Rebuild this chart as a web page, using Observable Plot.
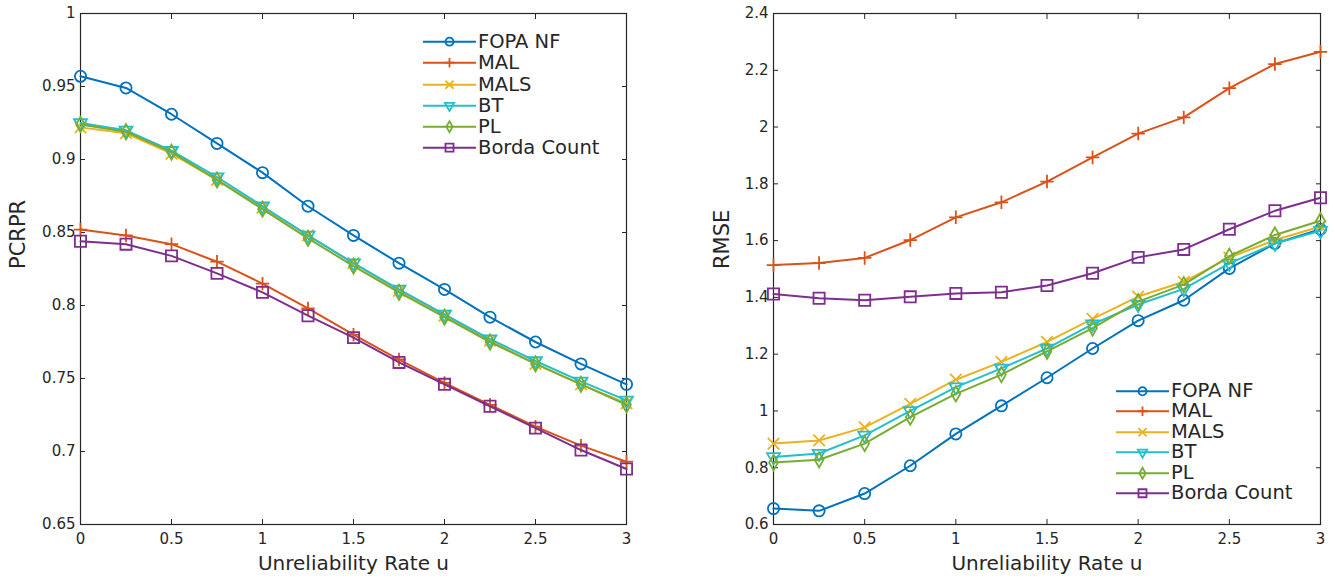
<!DOCTYPE html>
<html><head><meta charset="utf-8">
<script src="https://cdn.jsdelivr.net/npm/d3@7"></script>
<script src="https://cdn.jsdelivr.net/npm/@observablehq/plot@0.6"></script>
<style>
body{margin:0;background:#fff;}
#wrap{position:relative;width:1335px;height:583px;font-family:"DejaVu Sans",sans-serif;color:#262626;overflow:hidden}
.panel{position:absolute;top:0}
.legend{position:absolute;font-size:19.5px}
.legend .row{display:flex;align-items:center;white-space:nowrap;overflow:visible}
.legend svg{display:block;margin-right:2px}
</style></head><body><div id="wrap"></div>
<script>
// ---- data ----
const u = [0, 0.25, 0.5, 0.75, 1, 1.25, 1.5, 1.75, 2, 2.25, 2.5, 2.75, 3];
const seriesNames = ["FOPA NF", "MAL", "MALS", "BT", "PL", "Borda Count"];
const colors = ["#0072BD", "#D95319", "#EDB120", "#22BFCD", "#77AC30", "#7E2F8E"];
const symbols = ["circle", "plus", "times", "triangle", "diamond", "square"];
const symbolR = [5.6, 4.4, 5.3, 4.8, 4.6, 6.3];
const symbolRotate = [0, 0, 0, 180, 0, 0];

const pcrprFOPA  = [0.957, 0.949, 0.931, 0.911, 0.891, 0.868, 0.848, 0.829, 0.811, 0.792, 0.775, 0.760, 0.746];
const pcrprMAL   = [0.852, 0.848, 0.842, 0.830, 0.815, 0.798, 0.780, 0.763, 0.747, 0.732, 0.717, 0.704, 0.693];
const pcrprMALS  = [0.922, 0.918, 0.904, 0.886, 0.867, 0.848, 0.829, 0.810, 0.793, 0.776, 0.760, 0.746, 0.733];
const pcrprBT    = [0.925, 0.920, 0.906, 0.888, 0.868, 0.848, 0.829, 0.811, 0.794, 0.777, 0.762, 0.748, 0.735];
const pcrprPL    = [0.924, 0.919, 0.905, 0.886, 0.866, 0.846, 0.827, 0.809, 0.792, 0.775, 0.760, 0.746, 0.732];
const pcrprBorda = [0.844, 0.842, 0.834, 0.822, 0.809, 0.793, 0.778, 0.761, 0.746, 0.731, 0.716, 0.701, 0.688];

const rmseFOPA  = [0.656, 0.648, 0.709, 0.807, 0.919, 1.018, 1.117, 1.220, 1.318, 1.390, 1.502, 1.590, 1.640];
const rmseMAL   = [1.514, 1.521, 1.539, 1.602, 1.682, 1.735, 1.808, 1.893, 1.977, 2.034, 2.137, 2.222, 2.265];
const rmseMALS  = [0.885, 0.896, 0.942, 1.025, 1.110, 1.173, 1.243, 1.324, 1.403, 1.455, 1.540, 1.602, 1.650];
const rmseBT    = [0.838, 0.850, 0.914, 1.000, 1.084, 1.150, 1.220, 1.306, 1.375, 1.430, 1.520, 1.590, 1.635];
const rmsePL    = [0.818, 0.828, 0.885, 0.978, 1.060, 1.128, 1.210, 1.292, 1.385, 1.445, 1.545, 1.620, 1.670];
const rmseBorda = [1.412, 1.397, 1.390, 1.402, 1.414, 1.418, 1.442, 1.485, 1.541, 1.569, 1.640, 1.705, 1.751];

const xTicks = [0, 0.5, 1, 1.5, 2, 2.5, 3];
const pcrprTicks = [0.65, 0.7, 0.75, 0.8, 0.85, 0.9, 0.95, 1];
const rmseTicks = [0.6, 0.8, 1, 1.2, 1.4, 1.6, 1.8, 2, 2.2, 2.4];
const xLabel = "Unreliability Rate u";

// ---- build ----
function tidy(arrays) {
  const rows = [];
  arrays.forEach((vals, s) => vals.forEach((v, i) => rows.push({u: u[i], v, series: seriesNames[s]})));
  return rows;
}
const fmt = d => String(+d.toFixed(2));

function panel({data, yDomain, yTicks, yLabel, width, marginLeft, marginRight, yLabelDx}) {
  const marks = [];
  seriesNames.forEach((name, s) => {
    const rows = data.filter(d => d.series === name);
    marks.push(Plot.line(rows, {x: "u", y: "v", stroke: colors[s], strokeWidth: 2}));
    marks.push(Plot.dot(rows, {x: "u", y: "v", symbol: symbols[s], r: symbolR[s], rotate: symbolRotate[s],
      stroke: colors[s], fill: "none", strokeWidth: 1.8}));
  });
  return Plot.plot({
    width, height: 583,
    marginLeft, marginRight, marginTop: 13, marginBottom: 59,
    style: {fontFamily: '"DejaVu Sans", sans-serif', color: "#262626", background: "transparent", overflow: "visible"},
    x: {domain: [0, 3]},
    y: {domain: yDomain},
    marks: [
      Plot.frame({stroke: "#262626", strokeWidth: 1.2}),
      Plot.axisX(xTicks, {anchor: "bottom", tickSize: -5, tickPadding: 14, fontSize: 15, label: null, tickFormat: fmt}),
      Plot.axisX(xTicks, {anchor: "top", tickSize: -5, label: null, tickFormat: () => ""}),
      Plot.axisY(yTicks, {anchor: "left", tickSize: -5, tickPadding: 10, fontSize: 15, label: null, tickFormat: fmt}),
      Plot.axisY(yTicks, {anchor: "right", tickSize: -5, label: null, tickFormat: () => ""}),
      Plot.text([xLabel], {frameAnchor: "bottom", dy: 45, fontSize: 20, text: d => d}),
      Plot.text([yLabel], {frameAnchor: "left", dx: -yLabelDx, rotate: -90, fontSize: 21, text: d => d}),
      ...marks
    ]
  });
}

const wrap = document.getElementById("wrap");

const left = panel({
  data: tidy([pcrprFOPA, pcrprMAL, pcrprMALS, pcrprBT, pcrprPL, pcrprBorda]),
  yDomain: [0.65, 1], yTicks: pcrprTicks, yLabel: "PCRPR",
  width: 667, marginLeft: 80, marginRight: 41, yLabelDx: 62
});
left.classList.add("panel"); left.style.left = "0px";
wrap.appendChild(left);

const right = panel({
  data: tidy([rmseFOPA, rmseMAL, rmseMALS, rmseBT, rmsePL, rmseBorda]),
  yDomain: [0.6, 2.4], yTicks: rmseTicks, yLabel: "RMSE",
  width: 668, marginLeft: 106, marginRight: 15, yLabelDx: 51
});
right.classList.add("panel"); right.style.left = "667px";
wrap.appendChild(right);

// ---- legends ----
const d3Sym = {circle: d3.symbolCircle, plus: d3.symbolPlus, times: d3.symbolTimes,
  triangle: d3.symbolTriangle, diamond: d3.symbolDiamond, square: d3.symbolSquare};
const legendScale = 0.72;
function legend(left, top, sampleW, rowH) {
  const div = document.createElement("div");
  div.className = "legend";
  div.style.left = left + "px"; div.style.top = top + "px";
  seriesNames.forEach((name, s) => {
    const row = document.createElement("div"); row.className = "row";
    row.style.height = rowH + "px";
    row.style.lineHeight = rowH + "px";
    const svg = d3.create("svg").attr("width", sampleW).attr("height", rowH);
    svg.append("line").attr("x1", 0).attr("x2", sampleW).attr("y1", rowH / 2).attr("y2", rowH / 2)
      .attr("stroke", colors[s]).attr("stroke-width", 2);
    svg.append("path")
      .attr("d", d3.symbol(d3Sym[symbols[s]], Math.PI * (symbolR[s] * legendScale) ** 2)())
      .attr("transform", `translate(${sampleW / 2},${rowH / 2}) rotate(${symbolRotate[s]})`)
      .attr("fill", "none").attr("stroke", colors[s]).attr("stroke-width", 1.8);
    row.appendChild(svg.node());
    const span = document.createElement("span"); span.textContent = name;
    span.style.lineHeight = rowH + "px";
    span.style.height = rowH + "px";
    row.appendChild(span);
    div.appendChild(row);
  });
  wrap.appendChild(div);
}
legend(423, 31, 53, 21.3);
legend(1116, 380.5, 53, 20.5);
</script>
</body></html>
